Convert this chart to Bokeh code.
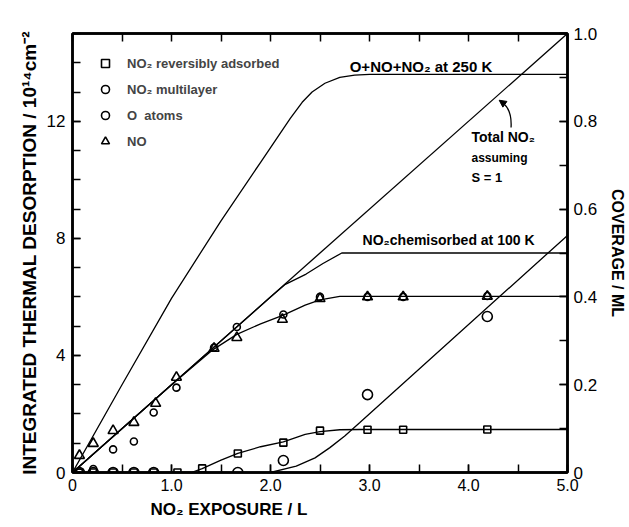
from bokeh.plotting import figure
from bokeh.models import (LinearAxis, Range1d, FixedTicker, Legend, LegendItem,
                          Label, Arrow, NormalHead, Title)
from bokeh.embed import file_html
from bokeh.resources import INLINE

# ---------------- data ----------------
# measured points, NO2 exposure in L, integrated desorption in 1e14 cm^-2
rev_x = [0.07, 0.21, 0.41, 0.62, 0.82, 1.06, 1.31, 1.67, 2.13, 2.5, 2.98, 3.34, 4.19]
rev_y = [0, 0, 0, 0, 0, 0, 0.14, 0.65, 1.02, 1.43, 1.46, 1.46, 1.47]

multi_x = [0.07, 0.21, 0.41, 0.62, 0.82, 1.67, 2.13, 2.98, 4.19]
multi_y = [0, 0, 0, 0, 0, 0, 0.41, 2.66, 5.33]

oat_x = [0.07, 0.21, 0.41, 0.62, 0.82, 1.05, 1.43, 1.66, 2.13, 2.5, 2.98, 3.34, 4.19]
oat_y = [0, 0.12, 0.79, 1.06, 2.05, 2.9, 4.27, 4.97, 5.4, 6.0, 6.0, 6.0, 6.03]

no_x = [0.07, 0.21, 0.41, 0.62, 0.84, 1.05, 1.43, 1.66, 2.12, 2.5, 2.98, 3.34, 4.19]
no_y = [0.58, 0.99, 1.43, 1.71, 2.36, 3.25, 4.24, 4.61, 5.23, 5.94, 6.0, 6.0, 6.02]

# drawn curves
c250_x = [0, 0.5, 1.0, 1.5, 1.9, 2.2, 2.32, 2.42, 2.55, 2.7, 2.85, 3.0, 5.0]
c250_y = [0, 3.0, 5.95, 8.6, 10.6, 12.1, 12.65, 13.0, 13.3, 13.5, 13.58, 13.6, 13.6]

total_x = [0, 5.0]
total_y = [0, 15.0]

chem_x = [0, 2.0, 2.15, 2.36, 2.53, 2.72, 5.0]
chem_y = [0, 6.0, 6.43, 6.78, 7.14, 7.5, 7.5]

noc_x = [0, 1.0, 1.42, 1.66, 1.9, 2.13, 2.35, 2.5, 2.7, 5.0]
noc_y = [0, 3.0, 4.2, 4.72, 5.08, 5.38, 5.72, 5.9, 6.02, 6.02]

revc_x = [0, 1.2, 1.31, 1.5, 1.67, 1.9, 2.13, 2.35, 2.5, 2.7, 2.9, 5.0]
revc_y = [0, 0, 0.13, 0.42, 0.65, 0.88, 1.05, 1.3, 1.4, 1.46, 1.47, 1.47]

mulc_x = [2.0, 2.26, 2.45, 2.6, 2.75, 2.9, 5.0]
mulc_y = [0, 0.22, 0.5, 0.85, 1.25, 1.7, 8.1]

x_ticks = [0, 1, 2, 3, 4, 5]
x_tick_labels = ["0", "1.0", "2.0", "3.0", "4.0", "5.0"]
x_minor = [0, 0.5, 1, 1.5, 2, 2.5, 3, 3.5, 4, 4.5, 5]
y_ticks = [0, 4, 8, 12]
y_tick_labels = ["0", "4", "8", "12"]
y_minor = list(range(0, 16))
cov_ticks = [0, 0.2, 0.4, 0.6, 0.8, 1.0]
cov_tick_labels = ["0", "0.2", "0.4", "0.6", "0.8", "1.0"]
cov_minor = [0, 0.1, 0.2, 0.3, 0.4, 0.5, 0.6, 0.7, 0.8, 0.9, 1.0]

FONT = "Liberation Sans"

p = figure(width=629, height=527, x_range=Range1d(0, 5), y_range=Range1d(0, 15),
           output_backend="svg", toolbar_location=None,
           min_border_left=72, min_border_right=60, min_border_top=33, min_border_bottom=55)
p.extra_y_ranges = {"cov": Range1d(0, 1.0)}
p.grid.visible = False
p.outline_line_color = "black"
p.outline_line_width = 2.5
p.background_fill_color = "white"
p.border_fill_color = "white"


def style_axis(ax, size="16px"):
    ax.axis_line_width = 2.5
    ax.axis_line_color = "black"
    ax.major_tick_in = 8
    ax.major_tick_out = 0
    ax.minor_tick_in = 8
    ax.minor_tick_out = 0
    ax.major_tick_line_width = 1.5
    ax.minor_tick_line_width = 1.5
    ax.major_label_text_font = FONT
    ax.major_label_text_font_size = size
    ax.major_label_text_color = "black"
    ax.axis_label_text_font = FONT
    ax.axis_label_text_font_style = "bold"
    ax.axis_label_text_color = "black"


xa = p.xaxis[0]
xa.ticker = FixedTicker(ticks=x_ticks, minor_ticks=x_minor)
xa.major_label_overrides = {t: l for t, l in zip(x_ticks, x_tick_labels)}
style_axis(xa, "16px")
xa.major_label_standoff = 6

ya = p.yaxis[0]
ya.ticker = FixedTicker(ticks=y_ticks, minor_ticks=y_minor)
ya.major_label_overrides = {t: l for t, l in zip(y_ticks, y_tick_labels)}
style_axis(ya, "17px")
ya.major_label_standoff = 7
ya.axis_label = "INTEGRATED THERMAL DESORPTION / 10\u00b9\u2074cm\u207b\u00b2"
ya.axis_label_text_font_size = "19px"
ya.axis_label_standoff = 4

# top frame ticks (no labels)
top = LinearAxis(ticker=FixedTicker(ticks=[], minor_ticks=x_minor))
style_axis(top)
p.add_layout(top, "above")

ra = LinearAxis(y_range_name="cov", ticker=FixedTicker(ticks=cov_ticks, minor_ticks=cov_minor))
style_axis(ra, "17px")
ra.major_label_overrides = {t: l for t, l in zip(cov_ticks, cov_tick_labels)}
ra.major_label_standoff = 6
ra.axis_label = "COVERAGE / ML"
ra.axis_label_text_font_size = "16px"
ra.axis_label_standoff = 9
p.add_layout(ra, "right")

# x axis title, shifted left as in the original
p.add_layout(Title(text="NO\u2082 EXPOSURE / L", align="left", offset=78, standoff=8,
                   text_font=FONT, text_font_style="bold", text_font_size="17px",
                   text_color="black"), "below")

# curves
for cx, cy in [(c250_x, c250_y), (total_x, total_y), (chem_x, chem_y), (noc_x, noc_y),
               (revc_x, revc_y), (mulc_x, mulc_y)]:
    p.line(cx, cy, line_color="black", line_width=1.3)

# points
r_rev = p.scatter(rev_x, rev_y, marker="square", size=7, fill_color=None,
                  line_color="black", line_width=1.6)
r_mul = p.scatter(multi_x, multi_y, marker="circle", size=10, fill_color=None,
                  line_color="black", line_width=1.6)
r_oat = p.scatter(oat_x, oat_y, marker="circle", size=7, fill_color=None,
                  line_color="black", line_width=1.6)
r_no = p.scatter(no_x, no_y, marker="triangle", size=10, fill_color=None,
                 line_color="black", line_width=1.6)

legend = Legend(items=[
    LegendItem(label="NO\u2082 reversibly adsorbed", renderers=[r_rev]),
    LegendItem(label="NO\u2082 multilayer", renderers=[r_mul]),
    LegendItem(label="O  atoms", renderers=[r_oat]),
    LegendItem(label="NO", renderers=[r_no]),
], location=(23, 321), padding=0, spacing=6, glyph_height=20, glyph_width=20,
    label_height=20, label_standoff=12, label_text_font=FONT, label_text_font_size="13px",
    label_text_font_style="bold", background_fill_alpha=0, border_line_alpha=0)
p.add_layout(legend)

# annotations
def txt(x, y, s, size="12px"):
    p.add_layout(Label(x=x, y=y, text=s, text_baseline="middle", text_align="left",
                       text_font=FONT, text_font_style="bold", text_font_size=size,
                       text_color="black"))

txt(2.8, 13.87, "O+NO+NO\u2082  at 250 K", "15px")
txt(2.93, 7.93, "NO\u2082chemisorbed at 100 K", "14px")
txt(4.03, 11.45, "Total  NO\u2082", "14px")
txt(4.03, 10.76, "assuming", "12px")
txt(4.03, 10.08, "S = 1", "13px")

p.quadratic(x0=[4.43], y0=[11.79], x1=[4.33], y1=[12.66], cx=[4.44], cy=[12.45],
            line_color="black", line_width=1.3)
p.add_layout(Arrow(end=NormalHead(size=7, fill_color="black", line_color="black"),
                   x_start=4.36, y_start=12.6, x_end=4.31, y_end=12.72, line_alpha=0))

open("out.html", "w").write(file_html(p, INLINE))
